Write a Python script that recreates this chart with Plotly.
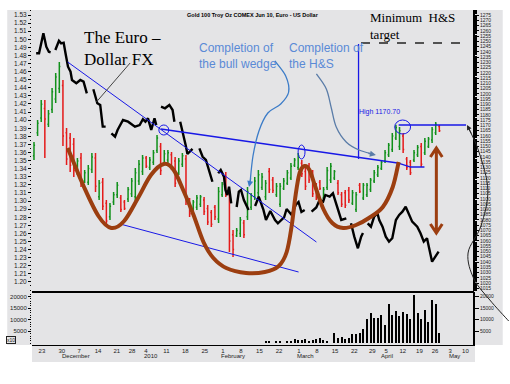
import plotly.graph_objects as go

# ---------------- data ----------------
# Gold 100 Troy Oz COMEX Jun 10 - daily OHLC, trading-day index 0 = 20 Nov 2009
gold_open = [1141, 1163, 1177, 1186, 1171, 1185, 1195, 1205, 1208, 1163, 1158, 1152, 1125, 1139, 1117, 1116,
             1128, 1139, 1102, 1116, 1096, 1083, 1097, 1104, 1101, 1097, 1100, 1105, 1102, 1117, 1126, 1139,
             1130, 1135, 1146, 1150, 1134, 1137, 1142, 1136, 1125, 1133, 1138, 1098, 1090, 1092, 1095, 1099,
             1091, 1087, 1092, 1081, 1104, 1122, 1104, 1066, 1065, 1067, 1077, 1083, 1092, 1102, 1106, 1111,
             1102, 1126, 1118, 1104, 1095, 1110, 1115, 1120, 1132, 1130, 1134, 1126, 1131, 1124, 1112, 1116,
             1101, 1111, 1118, 1120, 1115, 1104, 1106, 1108, 1096, 1090, 1113, 1101, 1104, 1109, 1117, 1123,
             1129, 1136, 1142, 1147, 1158, 1150, 1160, 1138, 1135, 1137, 1142, 1150, 1144, 1150, 1156, 1163,
             1169]
gold_high = [1154.2, 1175.1, 1194.1, 1194.1, 1184.6, 1205.6, 1219.8, 1230.3, 1213.2, 1167.5, 1162.7, 1158.0,
             1138.9, 1143.7, 1127.5, 1132.3, 1143.7, 1143.7, 1118.0, 1119.9, 1099.0, 1096.1, 1106.6, 1116.1,
             1103.8, 1099.0, 1111.4, 1119.9, 1129.4, 1137.1, 1141.8, 1140.9, 1139.9, 1146.6, 1160.8, 1153.2,
             1146.6, 1146.6, 1144.7, 1139.9, 1138.9, 1143.7, 1141.8, 1100.9, 1099.0, 1103.8, 1103.8, 1101.9,
             1094.2, 1089.5, 1094.2, 1111.4, 1116.1, 1125.6, 1108.5, 1070.4, 1072.4, 1082.8, 1080.0, 1111.4,
             1105.7, 1120.9, 1127.5, 1124.7, 1118.0, 1129.4, 1120.9, 1115.2, 1115.2, 1119.9, 1127.5, 1134.2,
             1138.9, 1143.7, 1137.1, 1129.4, 1134.2, 1127.5, 1115.2, 1118.0, 1111.4, 1130.4, 1134.2, 1127.5,
             1118.0, 1106.6, 1108.5, 1111.4, 1108.5, 1106.6, 1115.2, 1115.2, 1115.2, 1119.9, 1127.5, 1132.3,
             1137.1, 1146.6, 1153.2, 1162.7, 1170.7, 1168.5, 1162.7, 1139.9, 1137.1, 1146.6, 1151.3, 1153.2,
             1158.0, 1158.9, 1168.5, 1173.2, 1170.4]
gold_low = [1137.1, 1159.9, 1173.2, 1138.9, 1168.5, 1181.8, 1191.3, 1200.8, 1150.4, 1132.3, 1125.6, 1120.9,
            1122.8, 1111.4, 1115.2, 1113.3, 1124.7, 1106.6, 1099.0, 1089.5, 1075.2, 1080.0, 1094.2, 1100.9,
            1087.6, 1089.5, 1097.1, 1101.9, 1097.1, 1113.3, 1122.8, 1129.4, 1127.5, 1132.3, 1143.7, 1122.8,
            1132.3, 1134.2, 1127.5, 1111.4, 1122.8, 1130.4, 1094.2, 1082.8, 1087.6, 1089.5, 1092.3, 1084.7,
            1075.2, 1073.3, 1080.0, 1077.1, 1101.9, 1101.9, 1049.5, 1044.8, 1063.8, 1063.8, 1062.8, 1080.0,
            1089.5, 1099.0, 1101.9, 1108.5, 1099.0, 1105.7, 1105.7, 1101.9, 1092.3, 1108.5, 1113.3, 1118.0,
            1130.4, 1127.5, 1120.9, 1108.5, 1115.2, 1101.9, 1099.0, 1108.5, 1099.0, 1108.5, 1115.2, 1118.0,
            1103.8, 1092.3, 1091.4, 1096.1, 1094.2, 1087.6, 1105.7, 1099.0, 1101.9, 1106.6, 1115.2, 1120.9,
            1127.5, 1134.2, 1139.9, 1144.7, 1156.1, 1146.6, 1143.7, 1127.5, 1122.8, 1135.2, 1139.9, 1130.4,
            1141.8, 1148.5, 1153.2, 1160.8, 1163.7]
gold_close = [1151, 1172, 1190, 1176, 1181, 1202, 1216, 1226, 1160, 1138, 1132, 1127, 1136, 1116, 1125, 1129,
              1140, 1112, 1115, 1093, 1079, 1093, 1104, 1113, 1090, 1091, 1109, 1117, 1125, 1133, 1139, 1131,
              1137, 1144, 1158, 1127, 1143, 1144, 1130, 1115, 1136, 1141, 1098, 1086, 1097, 1101, 1102, 1088,
              1078, 1076, 1083, 1107, 1114, 1105, 1060, 1052, 1070, 1080, 1066, 1107, 1103, 1117, 1123, 1121,
              1115, 1109, 1108, 1112, 1112, 1117, 1125, 1131, 1137, 1141, 1124, 1112, 1118, 1105, 1102, 1110,
              1109, 1127, 1131, 1126, 1106, 1095, 1094, 1099, 1106, 1104, 1107, 1113, 1113, 1118, 1125, 1130,
              1135, 1144, 1151, 1160, 1168, 1165, 1147, 1130, 1125, 1144, 1149, 1133, 1155, 1157, 1166, 1171,
              1165]
bar_index = list(range(len(gold_close)))

# Euro - US Dollar (left axis), traced line, None = break in the line
euro_day = [0.6, 1.4, 1.6, 2.0, 2.6, 2.9, 3.4, 4.1, 4.6, None,
            5.9, 6.9, 7.5, 8.2, 8.8, 9.4, 10.1, 10.5, 11.7, 12.8, 13.7, 14.6, None,
            16.4, 16.9, 17.5, 18.3, 19.0, 19.8, None,
            21.4, 22.4, 23.1, 24.6, 26.0, 27.9, 29.2, 30.1, 30.8, 31.5, 32.4, 33.3, 33.8, None,
            35.1, 36.2, 37.4, 38.3, 38.8, None,
            40.4, 41.4, 41.9, 42.4, 43.3, 43.8, None,
            45.7, 46.6, 47.5, 48.4, 49.3, None,
            50.9, 51.6, 52.5, 52.9, 53.4, 53.9, 54.5, None,
            56.0, 56.6, 57.2, 58.0, 59.3, None,
            61.1, 62.1, 63.4, 64.1, 65.3, 66.6, 67.4, 69.1, 69.8, 71.2, 72.3, 73.1, 73.9, 74.8, None,
            76.7, 78.0, 78.9, 79.9, 80.5, 81.7, 82.6, 83.5, 84.9, 86.3, None,
            87.6, 88.5, 89.5, 90.4, 90.9, None,
            92.2, 93.1, 94.0, 94.9, 95.4, 96.3, 97.2, 98.1, 99.0, 100.0, 100.9, 101.8, 102.7, 103.6,
            104.5, 105.9, 106.8, 107.7, 108.6, 109.1, 110.0, 110.9, 111.8]
euro_rate = [1.4827, 1.4827, 1.4867, 1.4970, 1.5074, 1.5012, 1.4908, 1.4846, 1.4839, None,
             1.4867, 1.4982, 1.4950, 1.4958, 1.4806, 1.4661, 1.4599, 1.4497, 1.4456, 1.4497, 1.4476, 1.4332, None,
             1.4382, 1.4290, 1.4209, 1.4188, 1.3920, 1.3920, None,
             1.3838, 1.3796, 1.3878, 1.4002, 1.3981, 1.3920, 1.3940, 1.4011, 1.3981, 1.4023, 1.3878, 1.4023, 1.3940, None,
             1.4167, 1.4147, 1.4188, 1.4126, 1.3981, None,
             1.3981, 1.3804, 1.3693, 1.3582, 1.3619, 1.3644, None,
             1.3652, 1.3548, 1.3508, 1.3384, 1.3239, None,
             1.3343, 1.3384, 1.3301, 1.3137, 1.3075, 1.3178, 1.2972, None,
             1.2927, 1.3116, 1.3137, 1.3013, 1.2890, None,
             1.2939, 1.3054, 1.2890, 1.2766, 1.2877, 1.2766, 1.2725, 1.2797, 1.2902, 1.2828, 1.2951, 1.2988,
             1.2865, 1.2890, None,
             1.2869, 1.2921, 1.3013, 1.2992, 1.3075, 1.3054, 1.3096, 1.2972, 1.2766, 1.2787, None,
             1.2725, 1.2560, 1.2416, 1.2560, 1.2605, None,
             1.2725, 1.2683, 1.2807, 1.2849, 1.2766, 1.2683, 1.2560, 1.2498, 1.2540, 1.2766, 1.2828, 1.2869,
             1.2930, 1.2828, 1.2745, 1.2683, 1.2602, 1.2498, 1.2540, 1.2436, 1.2250, 1.2312, 1.2374]
euro_ticks = [1.20, 1.21, 1.22, 1.23, 1.24, 1.25, 1.26, 1.27, 1.28, 1.29, 1.30, 1.31, 1.32, 1.33, 1.34,
              1.35, 1.36, 1.37, 1.38, 1.39, 1.40, 1.41, 1.42, 1.43, 1.44, 1.45, 1.46, 1.47, 1.48, 1.49,
              1.50, 1.51, 1.52, 1.53]

# Volume
vol_day = [64, 65, 67, 68, 70, 71, 72, 73, 74, 75, 76, 77, 78, 79, 80, 81, 83, 84, 85, 86, 87, 88, 89,
           90, 91, 92, 93, 94, 95, 96, 97, 98, 99, 100, 101, 102, 103, 104, 105, 106, 107, 108, 109,
           110, 111, 112]
vol_value = [858, 858, 858, 858, 858, 1001, 1573, 1287, 1287, 1573, 858, 1430, 1716, 2002, 1287, 858,
             4147, 2002, 2431, 1573, 2002, 3718, 3718, 4147, 5863, 10153, 12727, 10868, 10868, 11869,
             7579, 16588, 12012, 13585, 11583, 13299, 12298, 10153, 20449, 12727, 10439, 14014, 9009,
             18304, 16588, 4433]
vol_ticks = [5000, 10000, 15000, 20000]
vol_tick_labels = ["5000", "10000", "15000", "20000"]

# x axis: week separators (trading-day index) and labels, month separators
week_sep = [0.7, 6.2, 11.0, 16.2, 21.4, 25.6, 29.4, 35.1, 40.3, 45.7, 50.7, 55.7, 60.8, 66.2, 71.7,
            76.7, 81.7, 87.0, 92.0, 95.8, 100.4, 105.0, 109.3, 113.5, 117.7]
week_labels = ["23", "30", "7", "14", "21", "28", "4", "11", "18", "25", "1", "8", "15", "22", "1",
               "8", "15", "22", "29", "5", "12", "19", "26", "3", "10"]
month_sep = [6.65, 29.4, 50.7, 71.7, 94.9, 113.5]
month_labels = ["December", "2010", "February", "March", "April", "May"]

# ---------------- styles / geometry helpers ----------------
L, R, T, B = 28, 473, 10, 345          # plot area in page pixels
W, H = 510, 384
BG = "#E4E4E6"
GREEN, RED = "#10901A", "#E41A1A"
BLUE = "#1818E6"
BROWN = "#9C3E10"
TXTBLUE = "#5A8AD6"


def P(px, py):
    return ((px - L) / (R - L), (B - py) / (B - T))


def smooth(pts):
    pp = [P(*p) for p in pts]
    d = "M%.4f,%.4f" % pp[0]
    for i in range(len(pp) - 1):
        p0 = pp[i - 1] if i > 0 else pp[i]
        p1, p2 = pp[i], pp[i + 1]
        p3 = pp[i + 2] if i + 2 < len(pp) else pp[i + 1]
        c1 = (p1[0] + (p2[0] - p0[0]) / 6, p1[1] + (p2[1] - p0[1]) / 6)
        c2 = (p2[0] - (p3[0] - p1[0]) / 6, p2[1] - (p3[1] - p1[1]) / 6)
        d += " C%.4f,%.4f %.4f,%.4f %.4f,%.4f" % (c1 + c2 + p2)
    return d


def poly(pts):
    pp = [P(*p) for p in pts]
    return "M" + " L".join("%.4f,%.4f" % p for p in pp)


def line(p0, p1, color, width, dash=None):
    a, b = P(*p0), P(*p1)
    ln = dict(color=color, width=width)
    if dash:
        ln["dash"] = dash
    return dict(type="line", xref="paper", yref="paper", x0=a[0], y0=a[1], x1=b[0], y1=b[1], line=ln)


def ellipse(cx, cy, rx, ry):
    a, b = P(cx - rx, cy + ry), P(cx + rx, cy - ry)
    return dict(type="circle", xref="paper", yref="paper", x0=a[0], y0=a[1], x1=b[0], y1=b[1],
                line=dict(color=BLUE, width=1))


xr = [(L - 30) / 3.652, (R - 30) / 3.652]

fig = go.Figure()
fig.add_trace(go.Ohlc(x=bar_index, open=gold_open, high=gold_high, low=gold_low, close=gold_close,
                      xaxis="x", yaxis="y", tickwidth=0.3,
                      increasing=dict(line=dict(color=GREEN, width=1.5)),
                      decreasing=dict(line=dict(color=RED, width=1.5)), hoverinfo="skip"))
fig.add_trace(go.Scatter(x=euro_day, y=euro_rate, mode="lines", xaxis="x", yaxis="y2",
                         line=dict(color="black", width=2.4), connectgaps=False, hoverinfo="skip"))
fig.add_trace(go.Bar(x=vol_day, y=vol_value, xaxis="x", yaxis="y3", width=0.3,
                     marker=dict(color="black", line=dict(width=0)), hoverinfo="skip"))
fig.add_trace(go.Bar(x=vol_day, y=vol_value, xaxis="x", yaxis="y4", width=0.3,
                     marker=dict(color="rgba(0,0,0,0)", line=dict(width=0)), hoverinfo="skip"))

tickfont = dict(family="Liberation Sans, Arial", size=6, color="#222")
main_dom = [(B - 291) / (B - T), 1]
vol_dom = [0, (B - 292) / (B - T)]

week_label_pos = [s + 1.5 for s in week_sep]

fig.update_layout(
    width=W, height=H, margin=dict(l=L, r=W - R, t=T, b=H - B),
    paper_bgcolor="white", plot_bgcolor=BG, showlegend=False, bargap=0,
    xaxis=dict(domain=[0, 1], range=xr, anchor="y3", rangeslider=dict(visible=False),
               tickmode="array", tickvals=week_label_pos, ticktext=week_labels, ticks="",
               ticklen=0, tickfont=tickfont, showgrid=False, zeroline=False,
               showline=True, linecolor="black", linewidth=1),
    xaxis2=dict(overlaying="x", anchor="y3", range=xr, tickmode="array", tickvals=week_sep,
                ticks="outside", ticklen=8, tickcolor="black", tickwidth=1, showticklabels=False,
                showgrid=False, zeroline=False, showline=False),
    xaxis3=dict(overlaying="x", anchor="y3", range=xr, tickmode="array", tickvals=month_sep,
                ticks="outside", ticklen=17, tickcolor="black", tickwidth=1, showticklabels=False,
                showgrid=False, zeroline=False, showline=False),
    yaxis=dict(domain=main_dom, range=[1012.4, 1279.8], side="right", anchor="x",
               tick0=0, dtick=5, ticks="outside", ticklen=4, tickcolor="black",
               tickfont=dict(family="Liberation Sans, Arial", size=5, color="#222"),
               minor=dict(dtick=1, ticklen=2, ticks="outside", tickcolor="black"),
               showline=True, linecolor="black", linewidth=2, showgrid=False, zeroline=False),
    yaxis2=dict(overlaying="y", side="left", range=[1.1888, 1.5362], tickmode="array",
                tickvals=euro_ticks, tickformat=".2f", ticks="outside", ticklen=3, tickcolor="black",
                tickfont=dict(family="Liberation Sans, Arial", size=6.5, color="#222"),
                minor=dict(dtick=0.005, ticklen=1.5, ticks="outside", tickcolor="black"),
                showline=False, showgrid=False, zeroline=False),
    yaxis3=dict(domain=vol_dom, range=[-860, 21890], side="left", anchor="x",
                tickmode="array", tickvals=vol_ticks, ticktext=vol_tick_labels, ticks="outside",
                ticklen=3, tickcolor="black", tickfont=tickfont,
                minor=dict(dtick=1000, ticklen=1.5, ticks="outside", tickcolor="black"),
                showgrid=False, zeroline=False, showline=False),
    yaxis4=dict(overlaying="y3", side="right", range=[-860, 21890],
                tickmode="array", tickvals=vol_ticks, ticktext=vol_tick_labels, ticks="outside",
                ticklen=4, tickcolor="black",
                tickfont=dict(family="Liberation Sans, Arial", size=5, color="#222"),
                showgrid=False, zeroline=False, showline=True, linecolor="black", linewidth=2),
)

shapes = []
# backgrounds
a, b = P(3, 10), P(503, 345)
shapes.append(dict(type="rect", xref="paper", yref="paper", x0=a[0], y0=b[1], x1=b[0], y1=a[1],
                   fillcolor=BG, line=dict(width=0), layer="below"))
a, b = P(28, 345), P(475, 362)
shapes.append(dict(type="rect", xref="paper", yref="paper", x0=a[0], y0=b[1], x1=b[0], y1=a[1],
                   fillcolor=BG, line=dict(width=0), layer="below"))
# panel separator
shapes.append(line((28, 292), (474, 292), "black", 2))
# trend lines
shapes.append(line((64, 62), (315, 242), BLUE, 1))
shapes.append(line((117, 224), (297, 272), BLUE, 1))
shapes.append(line((158, 129), (397, 163), BLUE, 1.3))
shapes.append(dict(type="path", xref="paper", yref="paper",
                   path=poly([(397, 163), (410, 167), (424, 167)]), line=dict(color=BLUE, width=1.3)))
shapes.append(line((398, 125), (466, 125), BLUE, 1.3))
shapes.append(line((357.5, 44), (357.5, 159), BLUE, 1.3))
shapes.append(line((360, 43), (466, 43), "#222", 1.3, dash="dash"))
# circles
shapes.append(ellipse(161, 130, 5, 5))
shapes.append(ellipse(300, 152, 3.5, 7))
shapes.append(ellipse(402, 127, 8, 7))
# brown H&S outline
brown_pts = [(64, 148), (80, 186), (95, 216), (108, 228), (121, 221), (135, 198), (148, 175), (161, 164),
             (171, 170), (181, 191), (191, 215), (201, 242), (211, 258), (224, 268), (244, 273),
             (263, 272), (277, 266), (285, 252), (290, 226), (294, 195), (298, 173), (303, 166),
             (308, 170), (314, 187), (322, 209), (331, 223), (342, 228), (355, 225), (368, 218),
             (382, 207), (392, 187), (398, 162)]
shapes.append(dict(type="path", xref="paper", yref="paper", path=smooth(brown_pts),
                   line=dict(color=BROWN, width=4)))
# brown double arrow
shapes.append(dict(type="path", xref="paper", yref="paper",
                   path=poly([(430, 157), (436, 148), (442, 157)]) + " " +
                   poly([(436, 149), (436, 232)]) + " " + poly([(430, 224), (436, 233), (442, 224)]),
                   line=dict(color=BROWN, width=3)))
# blue curved pointers
shapes.append(dict(type="path", xref="paper", yref="paper",
                   path=smooth([(273, 61), (284, 76), (287, 92), (279, 104), (266, 113), (257, 131),
                                (251, 156), (248, 183)]),
                   line=dict(color="#3C7CC8", width=1.3)))
shapes.append(dict(type="path", xref="paper", yref="paper",
                   path=smooth([(315, 74), (325, 89), (330, 108), (335, 127), (345, 142), (358, 150),
                                (372, 154)]),
                   line=dict(color="#5A7CA8", width=1.3)))
# black pointer from text
shapes.append(line((127, 63), (93, 102), "#444", 1))
# black curve right of chart
shapes.append(dict(type="path", xref="paper", yref="paper",
                   path=smooth([(468, 127), (479, 152), (488, 190), (481, 226), (468, 253), (474, 279),
                                (490, 300), (509, 321)]),
                   line=dict(color="#222", width=1)))
fig.update_layout(shapes=shapes)

ann = []


def text(px, py, s, size, color="black", family="Liberation Sans, Arial", xanchor="left",
         yanchor="top", align="left"):
    x, y = P(px, py)
    ann.append(dict(x=x, y=y, xref="paper", yref="paper", text=s, showarrow=False,
                    font=dict(family=family, size=size, color=color), xanchor=xanchor,
                    yanchor=yanchor, align=align, borderpad=0))


def arrow(px, py, ax, ay, color, width=1.2):
    x, y = P(px, py)
    ann.append(dict(x=x, y=y, xref="paper", yref="paper", text="", showarrow=True, ax=ax, ay=ay,
                    arrowhead=2, arrowsize=1, arrowwidth=width, arrowcolor=color))


text(79, 27, "The Euro –<br>Dollar FX", 17, family="Liberation Serif, Times New Roman")
text(196, 40, "Completion of<br>the bull wedge", 12, color=TXTBLUE)
text(286, 40, "Completion of<br>the H&S", 12, color=TXTBLUE)
text(368, 9, "Minimum&nbsp; H&S<br>target", 13, family="Liberation Serif, Times New Roman")
text(357, 112, "High 1170.70", 7, color=BLUE, yanchor="middle")
text(251, 15, "<b>Gold 100 Troy Oz COMEX Jun 10, Euro - US Dollar</b>", 5.5, xanchor="center",
     yanchor="middle")
arrow(247, 187, 2, -10, "#3C7CC8")
arrow(375, 155, -9, -2, "#5A7CA8")
arrow(467, 125, 5, 10, "#222", 1)
for m, lab in zip(month_sep, month_labels):
    ann.append(dict(x=m + 0.5, y=(B - 356) / (B - T), xref="x", yref="paper", text=lab,
                    showarrow=False, xanchor="left", yanchor="middle", font=tickfont))
x10 = P(7, 340)
ann.append(dict(x=x10[0], y=x10[1], xref="paper", yref="paper", text="x10", showarrow=False,
                font=dict(family="Liberation Sans, Arial", size=5, color="#222"),
                bordercolor="#222", borderwidth=1, borderpad=0, xanchor="center", yanchor="middle"))
fig.update_layout(annotations=ann)

fig.write_html("out.html", config={"displayModeBar": False},
               post_script="document.body.style.margin='0px';")
